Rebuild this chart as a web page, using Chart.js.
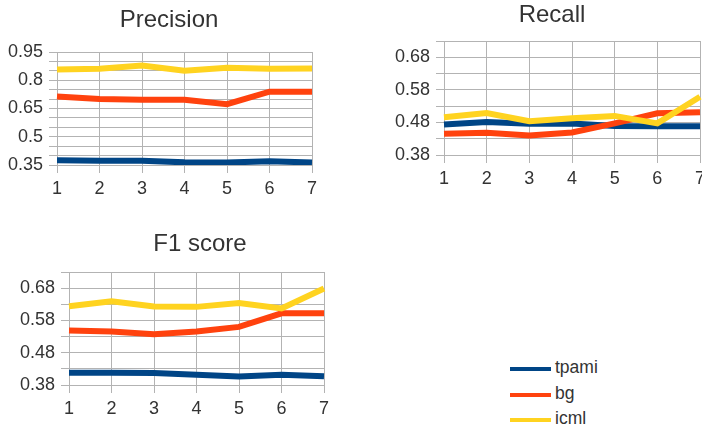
<!DOCTYPE html>
<html><head><meta charset="utf-8">
<script src="https://cdn.jsdelivr.net/npm/chart.js@4/dist/chart.umd.min.js"></script>
<style>
html,body{margin:0;padding:0;background:#fff;width:702px;height:428px;overflow:hidden;position:relative;font-family:'Liberation Sans',Arial,sans-serif;}
canvas{position:absolute;}
.item{position:absolute;left:510px;height:26px;display:flex;align-items:center;white-space:nowrap;}
.sw{width:41px;height:4px;margin-right:4px;}
.lab{font-size:17.5px;color:#333;position:relative;top:-1.5px;}
</style></head><body>
<canvas id="cP" width="338" height="200" style="left:0;top:0;width:338px;height:200px"></canvas>
<canvas id="cR" width="384" height="200" style="left:360px;top:0;width:384px;height:200px"></canvas>
<canvas id="cF" width="400" height="208" style="left:0;top:220px;width:400px;height:208px"></canvas>
<div id="legend"></div>
<script>
// ---- data ----
const categories = ['1','2','3','4','5','6','7'];
const seriesNames = ['tpami','bg','icml'];
const seriesColors = ['#004586','#ff420e','#ffd320'];

const precisionTpami = [0.375,0.373,0.373,0.364,0.363,0.370,0.363];
const precisionBg    = [0.714,0.700,0.696,0.696,0.673,0.739,0.739];
const precisionIcml  = [0.857,0.861,0.878,0.850,0.866,0.861,0.862];

const recallTpami = [0.474,0.481,0.476,0.477,0.469,0.468,0.468];
const recallBg    = [0.445,0.448,0.440,0.449,0.477,0.508,0.511];
const recallIcml  = [0.496,0.509,0.484,0.493,0.500,0.477,0.559];

const f1Tpami = [0.418,0.418,0.417,0.412,0.406,0.412,0.407];
const f1Bg    = [0.549,0.546,0.537,0.546,0.560,0.602,0.602];
const f1Icml  = [0.624,0.639,0.623,0.622,0.634,0.617,0.679];

const precisionTickLabels = [0.35,0.5,0.65,0.8,0.95];
const recallTickLabels = [0.38,0.48,0.58,0.68];
const f1TickLabels = [0.38,0.48,0.58,0.68];

// ---- chart factory ----
const FONT = "'Liberation Sans', Arial, sans-serif";
const GRID = '#b3b3b3';
const TEXT = '#333333';

function makeChart(id, title, values, yMin, yMax, tickLabels, lay) {
  const datasets = values.map((v, i) => ({
    label: seriesNames[i],
    data: v,
    borderColor: seriesColors[i],
    backgroundColor: seriesColors[i],
    borderWidth: 6,
    pointRadius: 0,
    pointHoverRadius: 0,
    tension: 0,
    fill: false,
    order: values.length - i
  }));
  return new Chart(document.getElementById(id), {
    type: 'line',
    data: { labels: categories, datasets },
    options: {
      responsive: false,
      animation: false,
      events: [],
      layout: { padding: 0 },
      plugins: {
        legend: { display: false },
        tooltip: { enabled: false },
        title: {
          display: true, text: title, color: TEXT,
          font: { family: FONT, size: 24, weight: 'normal', lineHeight: 1.2 },
          padding: { top: lay.tTop, bottom: lay.tBot }
        }
      },
      scales: {
        x: {
          type: 'category', offset: false,
          grid: { color: GRID, lineWidth: 1, tickLength: 8, drawTicks: true, tickColor: GRID },
          border: { color: GRID },
          ticks: { color: TEXT, font: { family: FONT, size: 18 }, padding: 5, autoSkip: false, maxRotation: 0 },
          afterFit: s => { s.height = lay.xH; }
        },
        y: {
          type: 'linear', position: 'left', min: yMin, max: yMax,
          grid: { color: GRID, lineWidth: 1, tickLength: 8, drawTicks: true, tickColor: GRID },
          border: { color: GRID },
          ticks: {
            stepSize: 0.05, autoSkip: false, color: TEXT, padding: 6,
            font: { family: FONT, size: 18 },
            callback: (v) => {
              const hit = tickLabels.find(t => Math.abs(t - v) < 1e-6);
              return hit === undefined ? '' : String(hit);
            }
          },
          afterFit: s => { s.width = lay.yW; }
        },
        yR: {
          type: 'linear', position: 'right', display: true,
          grid: { display: false, drawTicks: false },
          border: { display: false },
          ticks: { display: false },
          afterFit: s => { s.width = lay.yRW; }
        }
      }
    }
  });
}

makeChart('cP', 'Precision', [precisionTpami, precisionBg, precisionIcml], 0.35, 0.95, precisionTickLabels,
  { tTop: 6, tBot: 17.2, xH: 35, yW: 57, yRW: 26 });
makeChart('cR', 'Recall', [recallTpami, recallBg, recallIcml], 0.38, 0.73, recallTickLabels,
  { tTop: 1, tBot: 11.2, xH: 45, yW: 84, yRW: 44 });
makeChart('cF', 'F1 score', [f1Tpami, f1Bg, f1Icml], 0.38, 0.73, f1TickLabels,
  { tTop: 9.8, tBot: 13.4, xH: 43, yW: 69, yRW: 76 });

// ---- legend ----
const legendCenters = [369, 394.5, 420];
const lg = document.getElementById('legend');
seriesNames.forEach((n, i) => {
  const d = document.createElement('div');
  d.className = 'item';
  d.style.top = (legendCenters[i] - 13) + 'px';
  const sw = document.createElement('span');
  sw.className = 'sw'; sw.style.background = seriesColors[i];
  const t = document.createElement('span');
  t.className = 'lab'; t.textContent = n;
  d.appendChild(sw); d.appendChild(t);
  lg.appendChild(d);
});
</script>
</body></html>
